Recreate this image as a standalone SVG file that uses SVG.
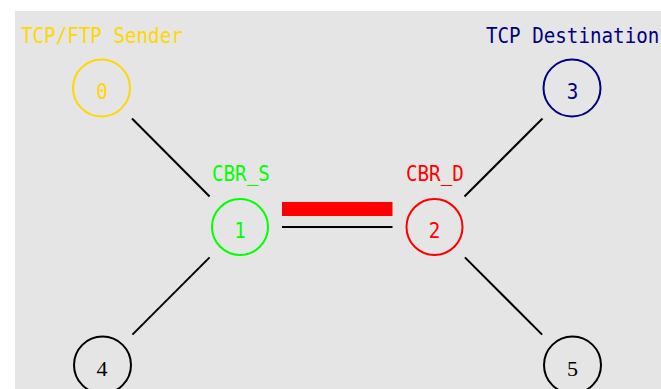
<svg xmlns="http://www.w3.org/2000/svg" width="661" height="389" viewBox="0 0 661 389">
<style>
.n{fill:none;stroke-width:2}
.m{font-family:"DejaVu Sans Mono","Liberation Mono",monospace;font-size:19.2px}
.d{font-family:"DejaVu Sans Mono","Liberation Mono",monospace;font-size:19.2px;text-anchor:middle}
.s{font-family:"Liberation Serif","Times New Roman",serif;font-size:22px;text-anchor:middle;fill:#000}
.l{stroke:#000;stroke-width:2;fill:none}
</style>
<rect x="0" y="0" width="661" height="389" fill="#ffffff"/>
<rect x="15" y="11" width="646" height="378" fill="#e5e5e5"/>
<g id="connectors">
<line class="l" x1="132" y1="118.5" x2="209.6" y2="196.5"/>
<line class="l" x1="542.5" y1="118.5" x2="464.5" y2="196.5"/>
<line class="l" x1="209.6" y1="257.4" x2="132.4" y2="334.6"/>
<line class="l" x1="464.9" y1="257.4" x2="542.1" y2="334.6"/>
<line class="l" x1="282" y1="227" x2="392.5" y2="227"/>
<rect x="282" y="202" width="110.5" height="14" fill="#ff0000"/>
</g>
<g id="node0">
<circle class="n" cx="101.5" cy="88" r="28.5" stroke="#ffd700"/>
<text class="d" transform="translate(102,99) scale(1,1.1)" fill="#ffd700">0</text>
<text class="m" transform="translate(21,43) scale(1,1.1)" fill="#ffd700">TCP/FTP Sender</text>
</g>
<g id="node3">
<circle class="n" cx="572" cy="88" r="28.5" stroke="#000080"/>
<text class="d" transform="translate(572.5,99) scale(1,1.1)" fill="#000080">3</text>
<text class="m" transform="translate(486,43) scale(1,1.1)" fill="#000080">TCP Destination</text>
</g>
<g id="node1">
<circle class="n" cx="240" cy="227" r="28" stroke="#00ff00"/>
<text class="d" transform="translate(240,237.5) scale(1,1.1)" fill="#00ff00">1</text>
<text class="m" transform="translate(212,181) scale(1,1.1)" fill="#00ff00">CBR_S</text>
</g>
<g id="node2">
<circle class="n" cx="434.5" cy="227" r="28" stroke="#ff0000"/>
<text class="d" transform="translate(434.5,237.5) scale(1,1.1)" fill="#ff0000">2</text>
<text class="m" transform="translate(406,181) scale(1,1.1)" fill="#ff0000">CBR_D</text>
</g>
<g id="node4">
<circle class="n" cx="102.5" cy="365" r="28.5" stroke="#000"/>
<text class="s" x="102" y="376">4</text>
</g>
<g id="node5">
<circle class="n" cx="572.5" cy="365" r="28.5" stroke="#000"/>
<text class="s" x="572.5" y="376">5</text>
</g>
</svg>
